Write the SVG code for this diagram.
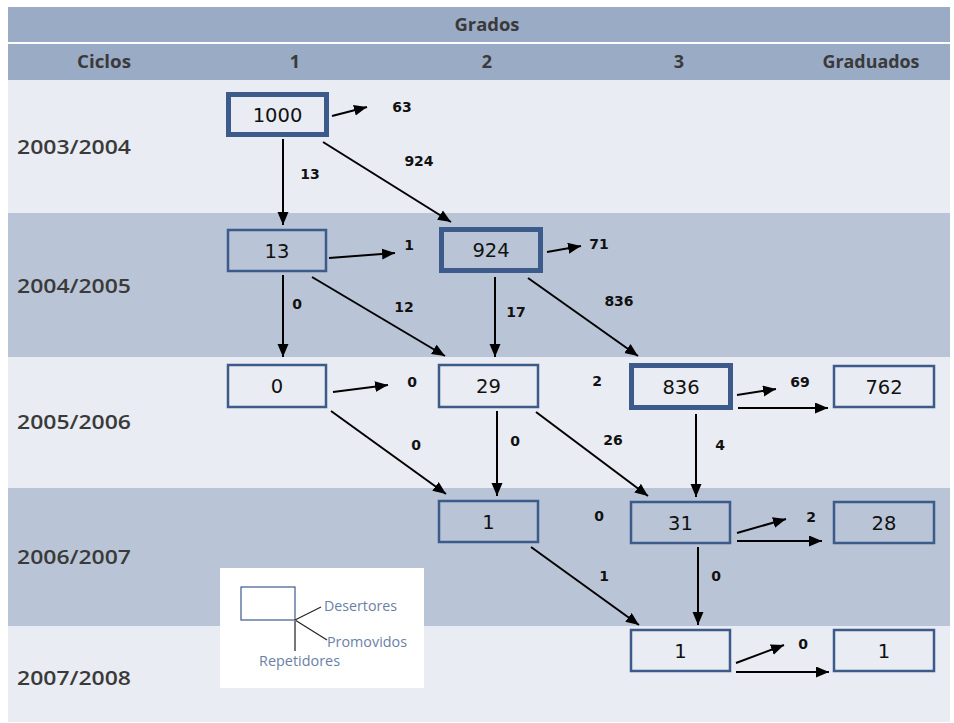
<svg xmlns="http://www.w3.org/2000/svg" width="954" height="723" viewBox="0 0 954 723">
<style>
.hdr{font-family:"Open Sans","DejaVu Sans",sans-serif;font-weight:700;font-size:18px;fill:#3a3a3a;text-anchor:middle}
.yr{font-family:"Open Sans","DejaVu Sans",sans-serif;font-weight:600;font-size:19px;fill:#3a3a3a}
.box{fill:none;stroke:#3c5a8a;stroke-width:2.5}
.thick{stroke-width:5}
.num{font-family:"DejaVu Sans",sans-serif;font-size:19.5px;fill:#111;text-anchor:middle}
.lbl{font-family:"DejaVu Sans",sans-serif;font-weight:700;font-size:14px;fill:#111;text-anchor:middle}
.edge{stroke:#000;stroke-width:2;fill:none;marker-end:url(#ah)}
.leg{font-family:"Open Sans","DejaVu Sans",sans-serif;font-size:14px;fill:#6b80a6}
</style>
<defs>
<marker id="ah" markerUnits="userSpaceOnUse" markerWidth="14" markerHeight="12" refX="13" refY="5.5" orient="auto">
<path d="M0,0 L13,5.5 L0,11 z" fill="#000"/>
</marker>
</defs>
<rect x="0" y="0" width="954" height="723" fill="#ffffff"/>
<g id="background">
<rect x="8" y="7" width="942" height="35" fill="#9aabc6"/>
<rect x="8" y="44" width="942" height="36" fill="#9aabc6"/>
<rect x="8" y="80" width="942" height="133" fill="#e9ecf2"/>
<rect x="8" y="213" width="942" height="144" fill="#b9c5d6"/>
<rect x="8" y="357" width="942" height="131" fill="#e9ecf2"/>
<rect x="8" y="488" width="942" height="138" fill="#b9c5d6"/>
<rect x="8" y="626" width="942" height="96" fill="#e9ecf2"/>
</g>
<g id="headers">
<text class="hdr" x="487" y="31" textLength="65" lengthAdjust="spacingAndGlyphs">Grados</text>
<text class="hdr" x="104" y="68" textLength="54" lengthAdjust="spacingAndGlyphs">Ciclos</text>
<text class="hdr" x="295" y="68">1</text>
<text class="hdr" x="487" y="68">2</text>
<text class="hdr" x="679" y="68">3</text>
<text class="hdr" x="871" y="68" textLength="97" lengthAdjust="spacingAndGlyphs">Graduados</text>
</g>
<g id="years">
<text class="yr" x="17" y="154" textLength="114" lengthAdjust="spacingAndGlyphs">2003/2004</text>
<text class="yr" x="17" y="293" textLength="114" lengthAdjust="spacingAndGlyphs">2004/2005</text>
<text class="yr" x="17" y="429" textLength="114" lengthAdjust="spacingAndGlyphs">2005/2006</text>
<text class="yr" x="17" y="564" textLength="114" lengthAdjust="spacingAndGlyphs">2006/2007</text>
<text class="yr" x="17" y="685" textLength="114" lengthAdjust="spacingAndGlyphs">2007/2008</text>
</g>
<g id="n1000"><rect class="box thick" x="228.5" y="94.5" width="98" height="40"/><text class="num" x="277.5" y="121.5">1000</text></g>
<g id="n13"><rect class="box" x="228" y="230" width="98" height="41"/><text class="num" x="277" y="257.5">13</text></g>
<g id="n924"><rect class="box thick" x="441.5" y="229.5" width="99" height="41"/><text class="num" x="491" y="257">924</text></g>
<g id="n0"><rect class="box" x="228" y="365" width="98" height="42"/><text class="num" x="277" y="393">0</text></g>
<g id="n29"><rect class="box" x="439" y="365" width="99" height="42"/><text class="num" x="488.5" y="393">29</text></g>
<g id="n836"><rect class="box thick" x="631.5" y="365.5" width="99" height="42"/><text class="num" x="681" y="393.5">836</text></g>
<g id="n762"><rect class="box" x="834" y="366" width="100" height="41"/><text class="num" x="884" y="393.5">762</text></g>
<g id="n1r4"><rect class="box" x="439" y="501" width="99" height="41"/><text class="num" x="488.5" y="528.5">1</text></g>
<g id="n31"><rect class="box" x="631" y="502" width="99" height="41"/><text class="num" x="680.5" y="529.5">31</text></g>
<g id="n28"><rect class="box" x="834" y="502" width="100" height="41"/><text class="num" x="884" y="529.5">28</text></g>
<g id="n1r5"><rect class="box" x="631" y="630" width="99" height="41"/><text class="num" x="680.5" y="657.5">1</text></g>
<g id="n1grad"><rect class="box" x="834" y="630" width="100" height="41"/><text class="num" x="884" y="657.5">1</text></g>
<g id="connectors">
<line class="edge" x1="332" y1="116" x2="367" y2="107"/>
<line class="edge" x1="283" y1="139" x2="283" y2="225"/>
<line class="edge" x1="323" y1="142" x2="451" y2="222"/>
<line class="edge" x1="329" y1="258" x2="395" y2="253"/>
<line class="edge" x1="283" y1="275" x2="283" y2="357"/>
<line class="edge" x1="312" y1="277" x2="445" y2="356"/>
<line class="edge" x1="547" y1="252" x2="581" y2="246"/>
<line class="edge" x1="495" y1="277" x2="495" y2="357"/>
<line class="edge" x1="528" y1="278" x2="638" y2="356"/>
<line class="edge" x1="333" y1="392" x2="388" y2="385"/>
<line class="edge" x1="331" y1="411" x2="446" y2="494"/>
<line class="edge" x1="497" y1="411" x2="497" y2="496"/>
<line class="edge" x1="536" y1="412" x2="648" y2="496"/>
<line class="edge" x1="737" y1="395" x2="776" y2="389"/>
<line class="edge" x1="738" y1="408" x2="828" y2="408"/>
<line class="edge" x1="696" y1="414" x2="696" y2="497"/>
<line class="edge" x1="737" y1="533" x2="786" y2="519"/>
<line class="edge" x1="737" y1="541" x2="822" y2="541"/>
<line class="edge" x1="531" y1="547" x2="639" y2="625"/>
<line class="edge" x1="698" y1="547" x2="698" y2="625"/>
<line class="edge" x1="736" y1="663" x2="784" y2="645"/>
<line class="edge" x1="736" y1="672" x2="829" y2="672"/>
</g>
<g id="labels">
<text class="lbl" x="402" y="112">63</text>
<text class="lbl" x="310" y="179">13</text>
<text class="lbl" x="419" y="166">924</text>
<text class="lbl" x="409" y="250">1</text>
<text class="lbl" x="297" y="309">0</text>
<text class="lbl" x="404" y="312">12</text>
<text class="lbl" x="599" y="249">71</text>
<text class="lbl" x="516" y="317">17</text>
<text class="lbl" x="619" y="306">836</text>
<text class="lbl" x="412" y="387">0</text>
<text class="lbl" x="416" y="450">0</text>
<text class="lbl" x="515" y="446">0</text>
<text class="lbl" x="613" y="445">26</text>
<text class="lbl" x="597" y="386">2</text>
<text class="lbl" x="800" y="387">69</text>
<text class="lbl" x="720" y="450">4</text>
<text class="lbl" x="599" y="521">0</text>
<text class="lbl" x="811" y="522">2</text>
<text class="lbl" x="604" y="581">1</text>
<text class="lbl" x="716" y="581">0</text>
<text class="lbl" x="803" y="649">0</text>
</g>
<g id="legend">
<rect x="220" y="568" width="204" height="120" fill="#ffffff"/>
<rect x="241" y="587" width="54" height="33" fill="none" stroke="#3c5a8a" stroke-width="1.2"/>
<line x1="295" y1="620" x2="321" y2="607" stroke="#222" stroke-width="1.2"/>
<line x1="295" y1="620" x2="327" y2="640" stroke="#222" stroke-width="1.2"/>
<line x1="295" y1="620" x2="295" y2="651" stroke="#777" stroke-width="2"/>
<text class="leg" x="324" y="611" textLength="73" lengthAdjust="spacingAndGlyphs">Desertores</text>
<text class="leg" x="327" y="647" textLength="80" lengthAdjust="spacingAndGlyphs">Promovidos</text>
<text class="leg" x="259" y="666" textLength="81" lengthAdjust="spacingAndGlyphs">Repetidores</text>
</g>
</svg>
